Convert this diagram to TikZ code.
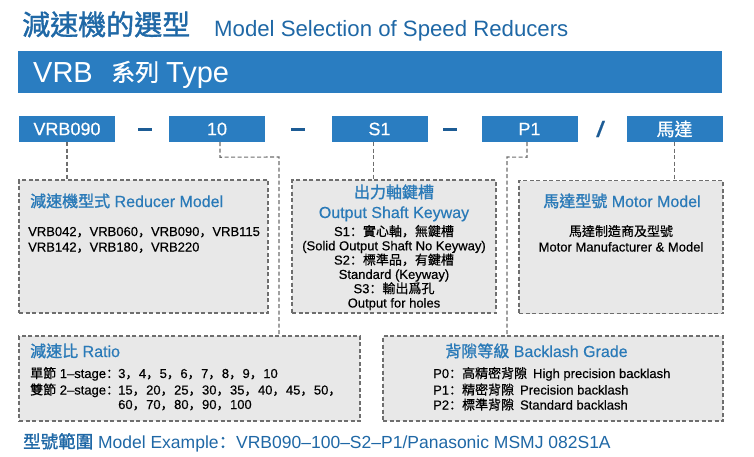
\documentclass[tikz,border=0pt]{standalone}
\usepackage{fontspec}
\setmainfont{Liberation Sans}[FakeBold=0.4]
\newfontfamily\plainsans{Liberation Sans}
\newfontfamily\cjk[FakeBold=0.6]{Noto Sans CJK TC}
\newfontfamily\cjkb[FakeBold=1.4]{Noto Sans CJK TC}
\newfontfamily\pun[FakeBold=0.6]{Noto Sans CJK SC}
\newcommand\zh[1]{{\cjk #1}}
\newcommand\zhb[1]{{\cjkb #1}}
\newcommand\fcm{{\pun ，}}
\newcommand\fco{{\pun ：}}
\newcommand\rcm{{\pun ，}\hspace{0.5pt}}
\usetikzlibrary{calc}
\definecolor{barblue}{HTML}{2A7DC1}
\definecolor{titleblue}{HTML}{1F68A6}
\definecolor{headblue}{HTML}{2A7AB8}
\definecolor{sepblue}{HTML}{1D5C95}
\definecolor{boxgray}{HTML}{E8E8E8}
\definecolor{linegray}{HTML}{6E6E6E}
\begin{document}
\begin{tikzpicture}[x=1pt,y=-1pt,
  topbox/.style={fill=barblue, text=white, minimum width=96pt, minimum height=26pt, inner sep=0pt, font=\fontsize{18}{20}\selectfont},
  infobox/.style={draw=linegray, fill=boxgray, line width=1.1pt, dash pattern=on 4pt off 2.5pt, inner sep=0pt},
  conn/.style={draw=linegray, line width=1.1pt, dash pattern=on 4pt off 2.5pt},
  head/.style={text=headblue, inner sep=0pt, font=\fontsize{16}{19}\selectfont},
  body/.style={inner sep=0pt, font=\fontsize{13}{15}\selectfont},
  sepdash/.style={fill=sepblue, minimum width=14pt, minimum height=3pt, inner sep=0pt}
]
\useasboundingbox (0,0) rectangle (754,456);
\fill[white] (0,0) rectangle (754,456);

% title
\node[anchor=base west, inner sep=0pt, text=titleblue, font=\fontsize{28}{30}\selectfont\cjkb] (t1) at (22,35) {減速機的選型};
\node[anchor=base west, inner sep=0pt, text=titleblue, font=\fontsize{22.2}{24}\selectfont\plainsans] (t2) at (214,36) {Model Selection of Speed Reducers};

% bar
\node[fill=barblue, minimum width=704pt, minimum height=42pt, inner sep=0pt] (bar) at (370,72) {};
\node[anchor=base west, inner sep=0pt, text=white, font=\fontsize{29}{30}\selectfont\plainsans] (bt1) at (33,82) {VRB};
\node[anchor=base west, inner sep=0pt, text=white, font=\fontsize{24}{30}\selectfont\cjk] (bt2) at (111,81) {系列};
\node[anchor=base west, inner sep=0pt, text=white, font=\fontsize{29}{30}\selectfont\plainsans] (bt3) at (166,82) {Type};

% code boxes
\node[topbox] (b1) at (67,129) {VRB090};
\node[topbox] (b2) at (217,129) {10};
\node[topbox] (b3) at (379.5,129) {S1};
\node[topbox] (b4) at (529.5,129) {P1};
\node[topbox] (b5) at (674.5,129) {\zh{馬達}};
\node[sepdash] (s1) at (145,129.5) {};
\node[sepdash] (s2) at (298,129.5) {};
\node[sepdash] (s3) at (450,129.5) {};
\node[text=sepblue, inner sep=0pt, font=\fontsize{22}{24}\selectfont\bfseries\itshape] (s4) at (600,129) {/};

% info boxes
\node[infobox, minimum width=249pt, minimum height=133pt] (r1) at (143.5,246.5) {};
\node[infobox, minimum width=204pt, minimum height=133pt] (r2) at (394,246.5) {};
\node[infobox, minimum width=204pt, minimum height=133pt] (r3) at (621,247) {};
\node[infobox, minimum width=341pt, minimum height=85pt] (r4) at (189.5,378.5) {};
\node[infobox, minimum width=340pt, minimum height=85pt] (r5) at (553,378.5) {};

% connectors
\draw[conn] (b1.south) -- (b1.south |- r1.north);
\coordinate (c2a) at ($(b2.south)+(3,15)$);
\coordinate (c2b) at (279,157);
\draw[conn] ($(b2.south)+(3,0)$) -- (c2a) -- (c2b) -- (c2b |- r4.north);
\coordinate (c3) at ($(b3.south)+(-6,0)$);
\draw[conn] (c3) -- (c3 |- r2.north);
\coordinate (c4a) at ($(b4.south)+(-2.5,15)$);
\coordinate (c4b) at (507,157);
\draw[conn] ($(b4.south)+(-2.5,0)$) -- (c4a) -- (c4b) -- (c4b |- r5.north);
\draw[conn] (b5.south) -- (b5.south |- r3.north);

% box 1
\node[head, anchor=base west] (h1) at (30,207) {\zhb{減速機型式} Reducer Model};
\node[body, anchor=base west] (l11) at (28,236) {VRB042\fcm VRB060\fcm VRB090\fcm VRB115};
\node[body, anchor=base west] (l12) at (28,251.5) {VRB142\fcm VRB180\fcm VRB220};

% box 2
\node[head, anchor=base] (h2a) at (394,198) {\zhb{出力軸鍵槽}};
\node[head, anchor=base] (h2b) at (394,218) {Output Shaft Keyway};
\node[body, anchor=base] (l21) at (394,236) {S1\fco\zh{實心軸}\fcm\zh{無鍵槽}};
\node[body, anchor=base] (l22) at (394,250.3) {(Solid Output Shaft No Keyway)};
\node[body, anchor=base] (l23) at (394,264.6) {S2\fco\zh{標準品}\fcm\zh{有鍵槽}};
\node[body, anchor=base] (l24) at (394,278.9) {Standard (Keyway)};
\node[body, anchor=base] (l25) at (394,293.2) {S3\fco\zh{輸出爲孔}};
\node[body, anchor=base] (l26) at (394,307.5) {Output for holes};

% box 3
\node[head, anchor=base] (h3) at (622,207) {\zhb{馬達型號} Motor Model};
\node[body, anchor=base] (l31) at (621,236) {\zh{馬達制造商及型號}};
\node[body, anchor=base] (l32) at (621,251.5) {Motor Manufacturer \& Model};

% box 4
\node[head, anchor=base west] (h4) at (30,357) {\zhb{減速比} Ratio};
\node[body, anchor=base west] (l41) at (30,378) {\zh{單節} 1–stage\fco};
\node[body, anchor=base west] (l42) at (30,394.5) {\zh{雙節} 2–stage\fco};
\node[body, anchor=base west] (n41) at (118,378) {3\rcm 4\rcm 5\rcm 6\rcm 7\rcm 8\rcm 9\rcm 10};
\node[body, anchor=base west] (n42) at (118,394.5) {15\rcm 20\rcm 25\rcm 30\rcm 35\rcm 40\rcm 45\rcm 50\fcm};
\node[body, anchor=base west] (n43) at (118,409) {60\rcm 70\rcm 80\rcm 90\rcm 100};

% box 5
\node[head, anchor=base] (h5) at (536.5,357) {\zhb{背隙等級} Backlash Grade};
\node[body, anchor=base west] (l51) at (433,378) {P0\fco\zh{高精密背隙}\hspace{6pt}High precision backlash};
\node[body, anchor=base west] (l52) at (433,394.5) {P1\fco\zh{精密背隙}\hspace{6pt}Precision backlash};
\node[body, anchor=base west] (l53) at (433,409.5) {P2\fco\zh{標準背隙}\hspace{6pt}Standard backlash};

% bottom
\node[anchor=base west, inner sep=0pt, text=titleblue, font=\fontsize{17.5}{20}\selectfont\plainsans] (ex) at (23,448) {\zhb{型號範圍} Model Example{\pun ：}VRB090–100–S2–P1/Panasonic MSMJ 082S1A};
\end{tikzpicture}
\end{document}
